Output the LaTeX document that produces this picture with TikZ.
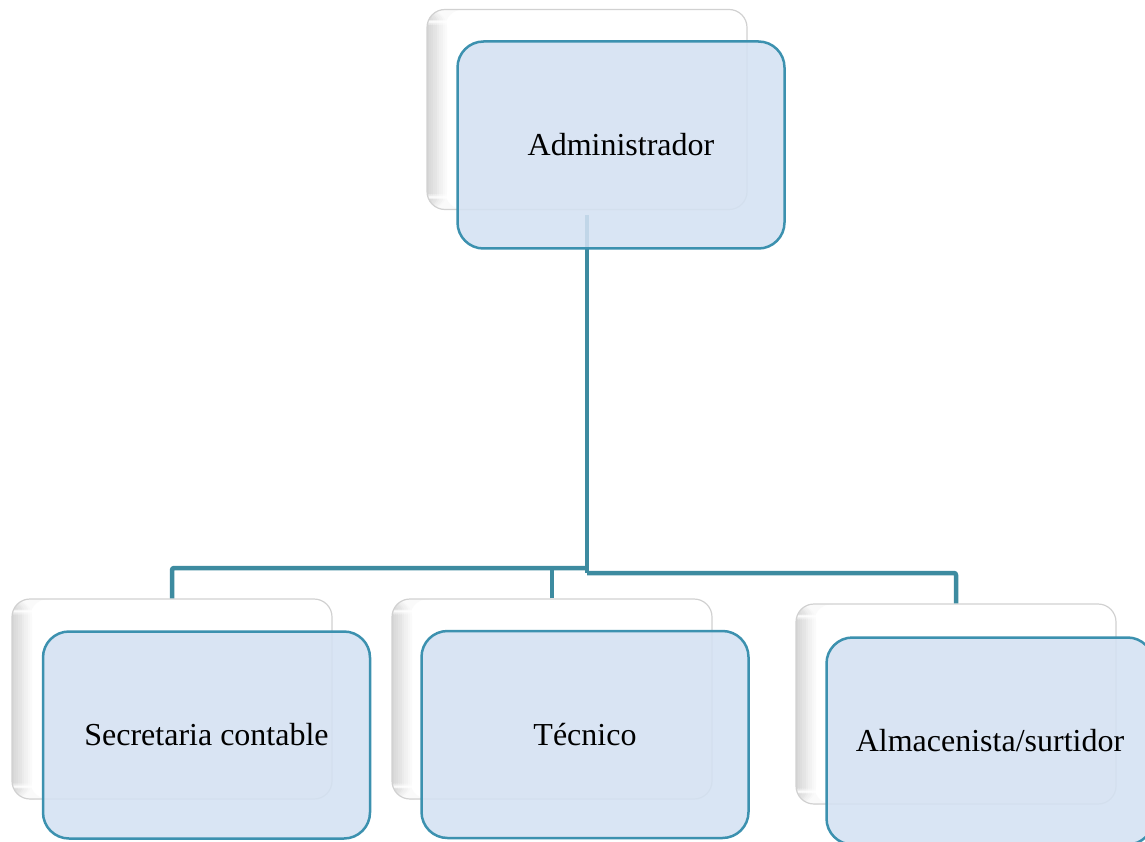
\documentclass[tikz,border=0pt]{standalone}
\usepackage{fontspec}
\setmainfont{Liberation Serif}
\definecolor{tealline}{RGB}{61,139,160}
\definecolor{boxblue}{RGB}{212,225,242}
\definecolor{boxedge}{RGB}{60,145,175}
\begin{document}
\begin{tikzpicture}[x=1pt,y=-1pt,line join=round,
	backbox/.style={draw=black!18,line width=1.2pt,fill=white,rounded corners=18pt,
		minimum width=320pt,minimum height=200pt,
		path picture={\foreach \k in {0,...,9}
			\fill[black!\the\numexpr 16-\k*16/10\relax] ([xshift=2*\k pt]path picture bounding box.south west) rectangle ([xshift=2*\k pt+2pt]path picture bounding box.north west);}},
	frontbox/.style={draw=boxedge,line width=2.5pt,fill=boxblue,fill opacity=.88,text opacity=1,
		rounded corners=26pt,minimum width=327pt,minimum height=207pt,font=\fontsize{32}{38}\selectfont},
	link/.style={draw=tealline,line width=4.5pt,rounded corners=2pt}]
	\useasboundingbox (0,0) rectangle (1145,842);
	%cajas de fondo
	\node[backbox] (adminback) at (587,109.5) {};
	\node[backbox] (secback) at (172,699) {};
	\node[backbox] (tecback) at (552,699) {};
	\node[backbox] (almback) at (956,704) {};
	%lineas
	\coordinate (busL) at (adminback.south |- 0,568);
	\coordinate (hub) at (adminback.south |- 0,573);
	\draw[link] ([yshift=-5pt]adminback.south) -- (hub);
	\draw[link] (secback.north) |- (busL);
	\draw[link] (tecback.north) -- (tecback.north |- busL);
	\draw[link] (almback.north) |- (hub);
	%cajas
	\node[frontbox] (admin) at (621,145) {Administrador};
	\node[frontbox] (sec) at (206.5,735) {Secretaria contable};
	\node[frontbox] (tec) at (585,734.5) {Técnico};
	\node[frontbox] (alm) at (990,741) {Almacenista/surtidor};
\end{tikzpicture}
\end{document}
